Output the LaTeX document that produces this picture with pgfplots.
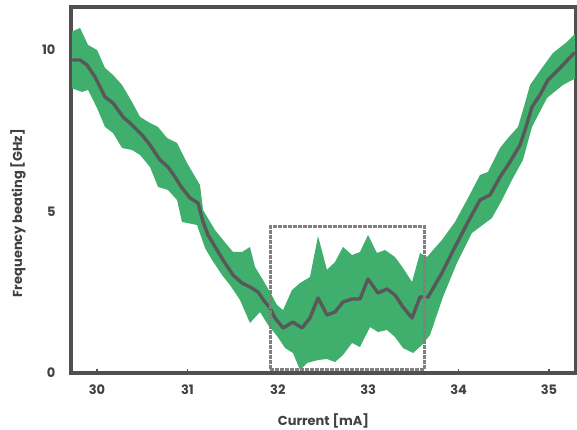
\documentclass[border=0pt]{standalone}
\usepackage{fontspec}
\setmainfont{Poppins}
\usepackage{pgfplots}
\pgfplotsset{compat=1.18}
\definecolor{bandgreen}{RGB}{64,174,108}
\definecolor{linegray}{RGB}{88,88,88}
\definecolor{framegray}{RGB}{80,80,80}
\definecolor{txtgray}{RGB}{65,65,65}
\definecolor{boxgray}{RGB}{128,128,128}
\begin{document}
\begin{tikzpicture}
\begin{axis}[
  scale only axis,
  width=505pt, height=366pt,
  xmin=29.712, xmax=35.299,
  ymin=0, ymax=11.33,
  axis line style={draw=framegray, line width=3.5pt},
  xtick={30,31,32,33,34,35},
  ytick={0,5,10},
  xtick pos=bottom,
  tick align=inside,
  major tick length=4pt,
  x tick style={draw=framegray, line width=1.5pt},
  y tick style={draw=none},
  /pgf/number format/assume math mode=true,
  tick label style={font=\fontsize{13}{15}\selectfont\bfseries, text=txtgray},
  xticklabel style={yshift=-8pt},
  yticklabel style={xshift=-12pt},
  xlabel={Current [mA]},
  ylabel={Frequency beating [GHz]},
  label style={font=\fontsize{13}{15}\selectfont\bfseries, text=txtgray},
  xlabel style={at={(axis description cs:0.5,-0.131)}, anchor=center},
  ylabel style={at={(axis description cs:-0.105,0.437)}, anchor=center, rotate=0},
  clip=false,
]
% band: upper edge left to right, then lower edge right to left
\addplot[fill=bandgreen, draw=none] coordinates {
(29.712,10.557) (29.812,10.681) (29.900,10.155) (30.000,10.000) (30.088,9.443)
(30.177,9.226) (30.277,8.916) (30.387,8.390) (30.476,7.926) (30.586,7.740)
(30.675,7.616) (30.774,7.276) (30.885,7.121) (30.996,6.502) (31.106,5.975)
(31.139,5.820) (31.173,5.046) (31.305,4.427) (31.394,4.118) (31.504,3.746)
(31.604,3.746) (31.692,3.901) (31.748,3.282) (31.836,2.879) (31.914,2.508)
(31.991,2.105) (32.058,1.950) (32.157,2.570) (32.246,2.786) (32.356,2.972)
(32.445,4.241) (32.544,3.189) (32.633,3.437) (32.721,3.901) (32.821,3.653)
(32.909,3.746) (32.998,4.272) (33.097,3.715) (33.186,3.808) (33.296,3.591)
(33.385,3.251) (33.485,2.817) (33.573,3.715) (33.650,3.591) (33.816,4.118)
(33.960,4.675) (34.104,5.418) (34.237,6.130) (34.325,6.223) (34.458,6.966)
(34.547,7.276) (34.657,7.616) (34.735,8.359) (34.790,8.916) (34.923,9.443)
(35.044,9.907) (35.199,10.248) (35.299,10.526)
(35.299,9.133) (35.155,8.916) (34.978,8.514) (34.812,7.616) (34.712,6.594)
(34.602,6.037) (34.480,5.356) (34.369,4.799) (34.148,4.334) (33.982,3.406)
(33.827,2.353) (33.684,1.176) (33.595,0.867) (33.496,0.619) (33.385,0.774)
(33.296,1.115) (33.208,1.331) (33.108,1.269) (33.020,1.424) (32.909,0.805)
(32.821,0.929) (32.721,0.557) (32.633,0.341) (32.544,0.433) (32.445,0.402)
(32.323,0.310) (32.246,0.093) (32.168,0.619) (32.080,0.774) (31.991,1.146)
(31.892,1.486) (31.803,1.889) (31.692,1.548) (31.582,2.260) (31.471,2.724)
(31.383,3.034) (31.272,3.498) (31.195,3.870) (31.106,4.582) (30.940,4.675)
(30.885,5.356) (30.785,5.666) (30.675,5.759) (30.586,6.378) (30.476,6.749)
(30.387,6.904) (30.277,6.966) (30.177,7.430) (30.088,7.616) (30.000,8.204)
(29.900,8.762) (29.834,8.700) (29.712,8.824)
} -- cycle;
% mean line
\addplot[draw=linegray, line width=3.4pt, line join=round, line cap=round] coordinates {
(29.735,9.690) (29.812,9.690) (29.889,9.536) (29.978,9.164) (30.088,8.545)
(30.177,8.359) (30.288,7.926) (30.387,7.678) (30.498,7.368) (30.586,7.059)
(30.697,6.594) (30.785,6.378) (30.841,6.161) (30.940,5.728) (31.029,5.418)
(31.117,5.263) (31.173,4.675) (31.228,4.272) (31.327,3.808) (31.394,3.498)
(31.504,3.034) (31.604,2.786) (31.692,2.663) (31.781,2.508) (31.858,2.198)
(31.914,2.012) (31.969,1.703) (32.058,1.393) (32.168,1.579) (32.268,1.393)
(32.356,1.703) (32.445,2.322) (32.544,1.796) (32.633,1.889) (32.721,2.198)
(32.821,2.291) (32.909,2.291) (32.998,2.910) (33.108,2.477) (33.208,2.601)
(33.296,2.415) (33.385,2.043) (33.485,1.703) (33.573,2.353) (33.662,2.353)
(33.816,3.096) (33.960,3.901) (34.104,4.675) (34.237,5.356) (34.347,5.511)
(34.458,6.068) (34.569,6.533) (34.679,7.059) (34.735,7.523) (34.812,8.235)
(34.900,8.607) (34.989,9.071) (35.122,9.443) (35.280,9.907)
};
% dashed inset box
\addplot[draw=boxgray, line width=3pt, dash pattern=on 4pt off 1pt] coordinates {
(31.914,0.124) (33.628,0.124) (33.628,4.520) (31.914,4.520)
} -- cycle;
% axis frame
\draw[framegray, line width=2.8pt] (rel axis cs:0,0) rectangle (rel axis cs:1,1);
\end{axis}
\pgfresetboundingbox
\path[use as bounding box] ([xshift=-71pt,yshift=-56pt]current axis.south west) rectangle ([xshift=1pt,yshift=7pt]current axis.north east);
\end{tikzpicture}
\end{document}
